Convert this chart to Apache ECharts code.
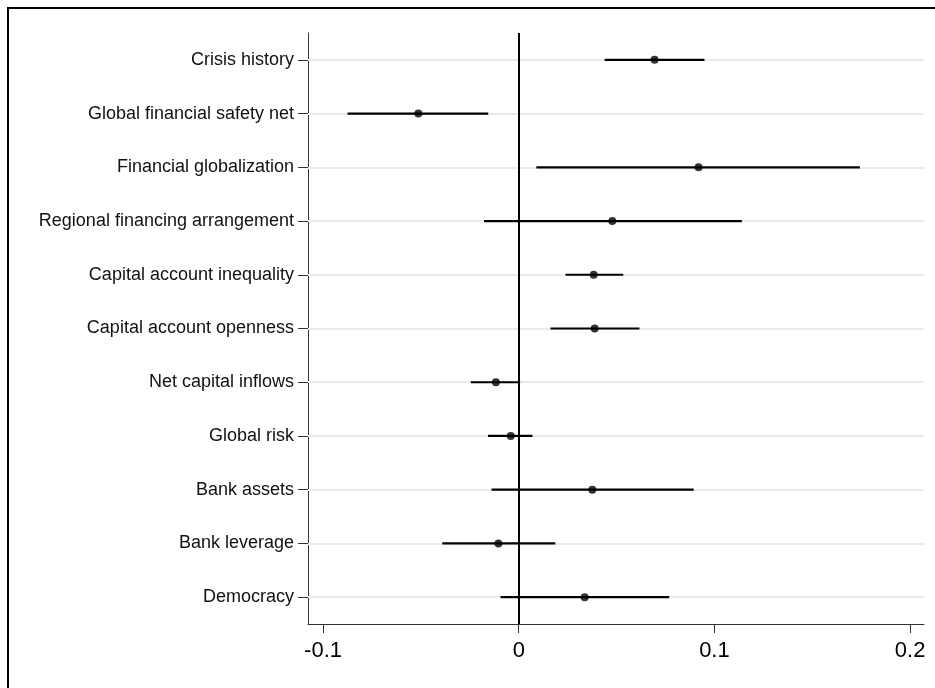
<!DOCTYPE html>
<html>
<head>
<meta charset="utf-8">
<script src="https://cdn.jsdelivr.net/npm/echarts@6/dist/echarts.min.js"></script>
<style>
  html, body { margin: 0; padding: 0; background: #fff; }
  #chart { width: 935px; height: 688px; }
</style>
</head>
<body>
<div id="chart"></div>
<script>
// Coefficient estimates with confidence intervals, one row per determinant
const categories = [
  'Crisis history',
  'Global financial safety net',
  'Financial globalization',
  'Regional financing arrangement',
  'Capital account inequality',
  'Capital account openness',
  'Net capital inflows',
  'Global risk',
  'Bank assets',
  'Bank leverage',
  'Democracy'
];
const estimates   = [0.0694, -0.0513, 0.0919, 0.0478, 0.0383, 0.0388, -0.0117, -0.0041, 0.0376, -0.0104, 0.0337];
const lowerBounds = [0.0439, -0.0875, 0.0090, -0.0177, 0.0239, 0.0162, -0.0245, -0.0157, -0.0139, -0.0391, -0.0093];
const upperBounds = [0.0949, -0.0156, 0.1743, 0.1140, 0.0534, 0.0617, 0.0007, 0.0070, 0.0894, 0.0187, 0.0769];

// x-axis tick positions and their labels
const xTickValues = [-0.1, 0, 0.1, 0.2];
const xTickLabels = ['-0.1', '0', '0.1', '0.2'];

const X_MIN = -0.1077;
const X_MAX = 0.2071;

const chart = echarts.init(document.getElementById('chart'), null, { renderer: 'canvas' });

// one two-point line per confidence interval
const intervalSeries = categories.map((c, i) => ({
  type: 'line',
  z: 3,
  silent: true,
  symbol: 'none',
  lineStyle: { color: '#000', width: 2.2 },
  data: [[lowerBounds[i], c], [upperBounds[i], c]]
}));

chart.setOption({
  animation: false,
  backgroundColor: '#ffffff',
  textStyle: { fontFamily: 'Liberation Sans, Arial, sans-serif' },
  graphic: [{
    type: 'rect',
    shape: { x: 8, y: 8, width: 960, height: 720 },
    style: { fill: 'none', stroke: '#000', lineWidth: 2 },
    silent: true,
    z: 0
  }],
  grid: { left: 308, top: 33, right: 11, bottom: 64, containLabel: false },
  xAxis: {
    type: 'value',
    min: X_MIN,
    max: X_MAX,
    axisLine: { show: true, onZero: false, lineStyle: { color: '#333', width: 1 } },
    axisTick: { show: true, length: 9, customValues: xTickValues, lineStyle: { color: '#333', width: 1 } },
    axisLabel: {
      customValues: xTickValues,
      margin: 16,
      fontSize: 22,
      color: '#000',
      fontFamily: 'Liberation Sans, Arial, sans-serif',
      formatter: function (v) {
        const k = xTickValues.findIndex(t => Math.abs(t - v) < 1e-9);
        return k >= 0 ? xTickLabels[k] : '';
      }
    },
    splitLine: { show: false }
  },
  yAxis: {
    type: 'category',
    data: categories,
    inverse: true,
    boundaryGap: true,
    axisLine: { show: true, onZero: false, lineStyle: { color: '#333', width: 1 } },
    axisTick: { show: true, alignWithLabel: true, length: 10, lineStyle: { color: '#333', width: 1 } },
    axisLabel: {
      margin: 14,
      fontSize: 18,
      color: '#111',
      fontFamily: 'Liberation Sans, Arial, sans-serif'
    },
    splitLine: { show: false }
  },
  series: [
    {
      // light row guides and the zero reference line, kept beneath the intervals
      type: 'scatter',
      z: 1,
      silent: true,
      data: [],
      markLine: {
        z: 1,
        silent: true,
        symbol: 'none',
        label: { show: false },
        data: categories.map(c => ({ yAxis: c, lineStyle: { color: '#e3edf1', width: 2, type: 'solid' } }))
          .concat([{ xAxis: 0, lineStyle: { color: '#000', width: 2, type: 'solid' } }])
      }
    }
  ].concat(intervalSeries, [
    {
      // point estimates
      type: 'scatter',
      z: 4,
      silent: true,
      symbol: 'circle',
      symbolSize: 8,
      itemStyle: { color: '#000' },
      data: categories.map((c, i) => [estimates[i], c])
    }
  ])
});
</script>
</body>
</html>
